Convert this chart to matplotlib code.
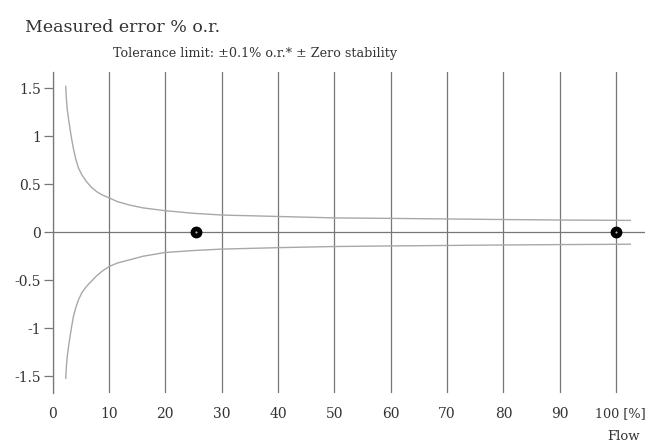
import matplotlib
matplotlib.use("Agg")
import matplotlib.pyplot as plt

# Data
flow_ticks = [0, 10, 20, 30, 40, 50, 60, 70, 80, 90, 100]
flow_tick_labels = ["0", "10", "20", "30", "40", "50", "60", "70", "80", "90", ""]
last_tick_label = "100 [%]"
err_ticks = [-1.5, -1, -0.5, 0, 0.5, 1, 1.5]
err_tick_labels = ["-1.5", "-1", "-0.5", "0", "0.5", "1", "1.5"]

tol_x = [2.35, 2.45, 2.6, 2.85, 3.1, 3.4, 3.7, 4.1, 4.6, 5.2, 6.0, 6.9, 7.8, 8.8, 10,
         11.5, 13.6, 16, 20, 25, 30, 40, 50, 60, 70, 80, 90, 100, 102.5]
tol_upper = [1.52, 1.40, 1.29, 1.18, 1.08, 0.97, 0.875, 0.77, 0.67, 0.60, 0.53, 0.47, 0.425,
             0.39, 0.36, 0.32, 0.285, 0.255, 0.225, 0.198, 0.18, 0.165, 0.15, 0.145, 0.139,
             0.133, 0.128, 0.125, 0.124]
tol_lower = [-1.52, -1.41, -1.30, -1.19, -1.09, -0.98, -0.88, -0.79, -0.705, -0.63, -0.565,
             -0.51, -0.455, -0.405, -0.358, -0.32, -0.288, -0.25, -0.21, -0.19, -0.175, -0.16,
             -0.148, -0.142, -0.137, -0.132, -0.128, -0.125, -0.124]

meas_flow = [25.5, 100]
meas_err = [0, 0]

FONT = "DejaVu Serif"
TXT = "#333333"
LINE = "#777777"
CURVE = "#a8a8a8"

fig = plt.figure(figsize=(6.48, 4.42), dpi=100)
W, H = 648, 442
left, right, top, bottom = 52.5, 645, 72, 393
ax = fig.add_axes([left / W, 1 - bottom / H, (right - left) / W, (bottom - top) / H])

ax.set_xlim(0, 105.1)
ax.set_ylim(-1.674, 1.67)

for s in ["top", "right", "bottom"]:
    ax.spines[s].set_visible(False)
ax.spines["left"].set_color(LINE)
ax.spines["left"].set_linewidth(0.9)

ax.set_xticks(flow_ticks)
ax.set_xticklabels(flow_tick_labels, fontfamily=FONT, fontsize=10, color=TXT)
ax.set_yticks(err_ticks)
ax.set_yticklabels(err_tick_labels, fontfamily=FONT, fontsize=10, color=TXT)
ax.tick_params(axis="x", length=0, pad=10)
ax.tick_params(axis="y", length=6.5, width=0.9, color=LINE, pad=2)

ax.grid(axis="x", color=LINE, linewidth=0.9)
ax.set_axisbelow(True)
ax.axhline(0, color=LINE, linewidth=0.9, zorder=1)

ax.plot(tol_x, tol_upper, color=CURVE, linewidth=1.0, zorder=2)
ax.plot(tol_x, tol_lower, color=CURVE, linewidth=1.0, zorder=2)

ax.plot(meas_flow, meas_err, linestyle="none", marker="o", markersize=7.5,
        markerfacecolor="black", markeredgecolor="black", zorder=5, clip_on=False)
ax.plot(meas_flow, meas_err, linestyle="none", marker="o", markersize=1.5,
        markerfacecolor="#bbbbbb", markeredgecolor="none", zorder=6, clip_on=False)

# last x tick label "100 [%]" with "100" centred near its gridline
ax.annotate(last_tick_label, xy=(flow_ticks[-1], 0), xycoords=("data", "axes fraction"),
            xytext=(-15.5, -15), textcoords="offset points", ha="left", va="center",
            fontfamily=FONT, fontsize=9.2, color=TXT, annotation_clip=False)

fig.text(25 / W, 1 - 28 / H, "Measured error % o.r.", fontfamily=FONT, fontsize=12.5,
         color=TXT, ha="left", va="center")
fig.text(113 / W, 1 - 53 / H, "Tolerance limit: \u00b10.1% o.r.* \u00b1 Zero stability",
         fontfamily=FONT, fontsize=9.2, color=TXT, ha="left", va="center")
fig.text(640 / W, 1 - 436 / H, "Flow", fontfamily=FONT, fontsize=9.5, color=TXT,
         ha="right", va="center")

fig.savefig("out.png", dpi=100)
